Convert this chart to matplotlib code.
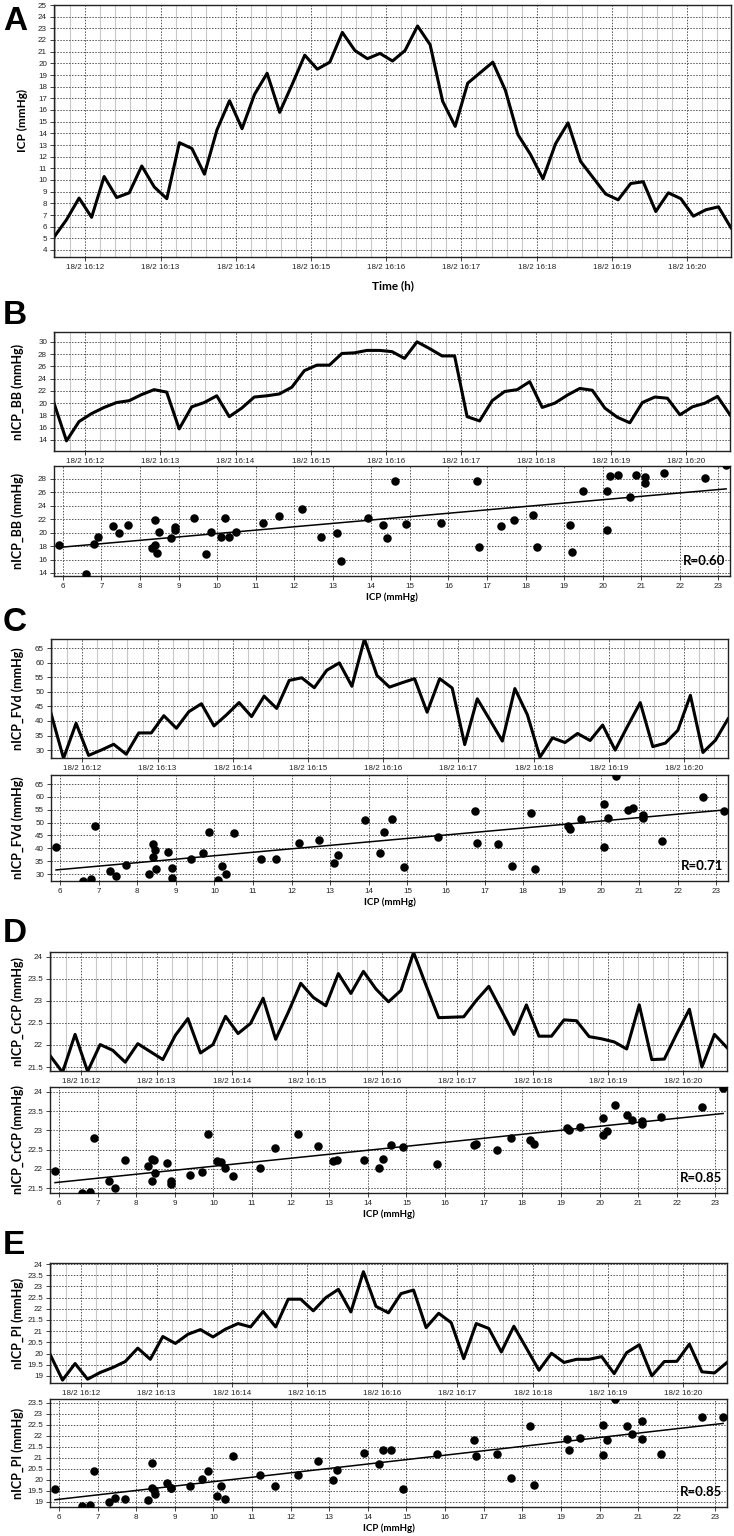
import matplotlib
matplotlib.use("Agg")
import matplotlib.pyplot as plt
from matplotlib.ticker import MultipleLocator, FuncFormatter
import numpy as np

# ICP and nICP estimates, one sample every 10 s starting 18/2 16:11:35
icp = [5.1, 6.6, 8.45, 6.8, 10.3, 8.5, 8.9, 11.2, 9.4, 8.4,
       13.2, 12.7, 10.5, 14.3, 16.8, 14.4, 17.35, 19.15, 15.8, 18.2,
       20.7, 19.5, 20.1, 22.65, 21.1, 20.4, 20.85, 20.2, 21.1, 23.2,
       21.6, 16.75, 14.6, 18.3, 19.2, 20.1, 17.7, 13.9, 12.2, 10.1,
       13.1, 14.9, 11.6, 10.2, 8.8, 8.3, 9.7, 9.85, 7.3, 8.9,
       8.4, 6.9, 7.45, 7.7, 5.9]

nicp_bb = [20.0, 13.85, 17.0, 18.3, 19.3, 20.1, 20.4, 21.4, 22.2, 21.8,
           15.8, 19.4, 20.1, 21.2, 17.8, 19.2, 21.0, 21.2, 21.5, 22.6,
           25.3, 26.2, 26.2, 28.1, 28.2, 28.6, 28.6, 28.4, 27.3, 30.0,
           28.9, 27.7, 27.7, 17.8, 17.1, 20.4, 21.9, 22.2, 23.5, 19.3,
           20.0, 21.3, 22.4, 22.1, 19.2, 17.7, 16.8, 20.1, 21.0, 20.8,
           18.1, 19.4, 20.0, 21.1, 18.1]

nicp_fvd = [42.6, 27.2, 39.2, 28.2, 30.0, 32.0, 28.6, 35.9, 35.9, 41.8,
            37.5, 43.2, 45.9, 38.3, 42.1, 46.3, 41.5, 48.5, 44.3, 53.9,
            54.8, 51.4, 57.4, 59.9, 51.9, 68.1, 55.6, 51.6, 53.1, 54.5,
            43.0, 54.5, 51.3, 31.9, 47.6, 40.4, 33.1, 51.1, 42.1, 27.6,
            34.2, 32.6, 35.7, 33.3, 38.6, 30.0, 38.3, 46.3, 31.2, 32.4,
            36.8, 48.8, 29.2, 33.4, 40.7]

nicp_crcp = [21.76, 21.38, 22.24, 21.40, 22.01, 21.88, 21.61, 22.03, 21.85, 21.67,
             22.22, 22.60, 21.82, 22.01, 22.65, 22.26, 22.49, 23.06, 22.13, 22.74,
             23.40, 23.08, 22.89, 23.62, 23.17, 23.67, 23.27, 22.98, 23.24, 24.10,
             23.35, 22.62, 22.63, 22.64, 23.01, 23.33, 22.79, 22.24, 22.91, 22.20,
             22.20, 22.57, 22.55, 22.19, 22.14, 22.07, 21.91, 22.91, 21.67, 21.68,
             22.26, 22.81, 21.50, 22.24, 21.94]

nicp_pi = [19.97, 18.81, 19.55, 18.85, 19.15, 19.37, 19.64, 20.24, 19.74, 20.76,
           20.45, 20.86, 21.07, 20.74, 21.09, 21.34, 21.19, 21.88, 21.19, 22.43,
           22.43, 21.91, 22.50, 22.87, 21.86, 23.66, 22.11, 21.82, 22.68, 22.84,
           21.16, 21.80, 21.38, 19.77, 21.34, 21.12, 20.07, 21.22, 20.24, 19.25,
           20.01, 19.60, 19.74, 19.74, 19.86, 19.10, 20.04, 20.39, 19.00, 19.64,
           19.65, 20.42, 19.18, 19.13, 19.60]

# regression lines (ICP endpoints -> nICP)
fit_icp = [5.9, 23.2]
fit_bb = [17.8, 26.5]
fit_fvd = [31.6, 54.9]
fit_crcp = [21.64, 23.44]
fit_pi = [19.1, 22.57]

r_values = ["R=0.60", "R=0.71", "R=0.85", "R=0.85"]

start_min = 11 + 35 / 60   # minutes after 16:00
step_min = 10 / 60
t = start_min + np.arange(len(icp)) * step_min

plt.rcParams["font.family"] = ["Lato", "DejaVu Sans"]
W, H = 734, 1536
fig = plt.figure(figsize=(W / 100, H / 100), dpi=100)


def px_axes(l, r, top, bot):
    return fig.add_axes([l / W, 1 - bot / H, (r - l) / W, (bot - top) / H])


dot_grid = dict(color="#555555", lw=0.7, ls=(0, (1.5, 1.5)))


def style(ax):
    for s in ax.spines.values():
        s.set_color("#222222")
        s.set_linewidth(1.0)
    ax.tick_params(which="major", length=3, width=0.6, pad=2, labelsize=5.8,
                   labelfontfamily="Liberation Sans", colors="#222222")
    ax.tick_params(which="minor", length=0)


def time_axis(ax):
    ax.set_xlim(t[0], t[-1])
    ax.xaxis.set_major_locator(MultipleLocator(1))
    ax.xaxis.set_minor_locator(MultipleLocator(0.2))
    ax.xaxis.set_major_formatter(FuncFormatter(lambda v, p: "18/2 16:%02d" % round(v)))
    ax.grid(which="minor", axis="x", color="#c8c8c8", lw=0.8, ls="-")
    ax.grid(which="major", axis="both", **dot_grid)
    style(ax)


def fmt_y(ax, lo, hi, step):
    ax.set_ylim(lo, hi)
    ax.yaxis.set_major_locator(MultipleLocator(step))
    ax.yaxis.set_major_formatter(FuncFormatter(lambda v, p: "%g" % round(v, 2)))


def letter(txt, y):
    fig.text(3 / W, 1 - y / H, txt, fontsize=24, fontweight="bold",
             family="Liberation Sans", ha="left", va="center")


def ylab(txt, x, y, size=9):
    fig.text(x / W, 1 - y / H, txt, rotation=90, fontsize=size, fontweight="bold",
             ha="center", va="center")


# Panel A
letter("A", 21)
axA = px_axes(54, 731, 5, 257)
axA.plot(t, icp, color="black", lw=2.2)
time_axis(axA)
fmt_y(axA, 3.4, 25, 1)
axA.set_xlabel("Time (h)", fontsize=8.5, fontweight="bold", labelpad=7)
ylab("ICP (mmHg)", 22, 120, 8.5)

panels = [
    ("B", "nICP_BB (mmHg)", nicp_bb, fit_bb, r_values[0],
     (12.2, 31.6, 2), (13.55, 29.9, 2), (54, 730), 316, (332, 451), (466, 576)),
    ("C", "nICP_FVd (mmHg)", nicp_fvd, fit_fvd, r_values[1],
     (27.3, 68.1, 5), (27.3, 68.5, 5), (51, 728), 622, (639, 758), (775, 881)),
    ("D", "nICP_CrCP (mmHg)", nicp_crcp, fit_crcp, r_values[2],
     (21.41, 24.11, 0.5), (21.37, 24.13, 0.5), (50, 727), 933, (952, 1071), (1087, 1193)),
    ("E", "nICP_PI (mmHg)", nicp_pi, fit_pi, r_values[3],
     (18.68, 24.05, 0.5), (18.77, 23.68, 0.5), (50, 727), 1245, (1263, 1383), (1399, 1507)),
]

for let, lab, series, fit, rtxt, ylim_l, ylim_s, (l, r), ly, (lt, lb), (st, sb) in panels:
    letter(let, ly)

    ax1 = px_axes(l, r, lt, lb)
    ax1.plot(t, series, color="black", lw=2.2)
    time_axis(ax1)
    fmt_y(ax1, *ylim_l)
    ylab(lab, 18, (lt + lb) / 2)

    ax2 = px_axes(l, r, st, sb)
    ax2.scatter(icp, series, s=26, color="black", zorder=3)
    ax2.plot(fit_icp, fit, color="black", lw=1.1, zorder=2)
    ax2.set_xlim(5.77, 23.3)
    ax2.xaxis.set_major_locator(MultipleLocator(1))
    fmt_y(ax2, *ylim_s)
    ax2.grid(which="major", axis="both", **dot_grid)
    style(ax2)
    ax2.set_xlabel("ICP (mmHg)", fontsize=7, fontweight="bold", labelpad=2)
    ax2.text(0.993, 0.14, rtxt, transform=ax2.transAxes, ha="right", va="center",
             fontsize=9.5, fontweight="bold")
    ylab(lab, 18, (st + sb) / 2)

fig.savefig("out.png", dpi=100)
